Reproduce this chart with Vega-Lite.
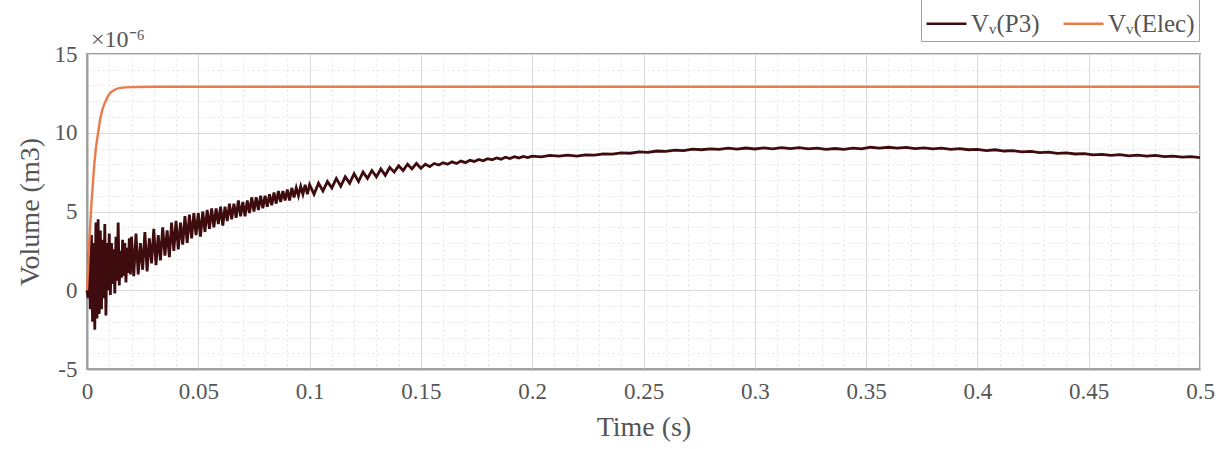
{
  "$schema": "https://vega.github.io/schema/vega-lite/v6.json",
  "width": 1113,
  "height": 315,
  "autosize": {"type": "none"},
  "padding": {"left": 87, "top": 54, "right": 21, "bottom": 80},
  "background": "white",
  "title": {"text": "×10⁻⁶", "anchor": "start", "frame": "group", "offset": -54, "dx": 4, "fontSize": 24, "font": "Liberation Serif", "fontWeight": "normal", "color": "#555"},
  "config": {
    "view": {"stroke": "#a0a0a0", "strokeWidth": 2},
    "axis": {
      "labelFont": "Liberation Serif", "labelFontSize": 23, "labelColor": "#555",
      "titleFont": "Liberation Serif", "titleFontSize": 28, "titleFontWeight": "normal", "titleColor": "#555",
      "domainColor": "#a0a0a0", "domainWidth": 2,
      "tickColor": "#999", "gridColor": "#dcdcdc", "gridWidth": 1
    },
    "legend": {
      "orient": "none", "legendX": 834, "legendY": -56, "direction": "horizontal",
      "strokeColor": "#a0a0a0", "padding": 4,
      "symbolType": "stroke", "symbolSize": 1600, "symbolStrokeWidth": 2.5,
      "labelFont": "Liberation Serif", "labelFontSize": 25, "labelColor": "#555", "labelOffset": 3,
      "columnPadding": 18, "title": " ", "titleFontSize": 16, "titlePadding": 0
    }
  },
  "datasets": {
    "p3": [
      {"t":0,"v":0},{"t":0.0005,"v":-0.5},{"t":0.001,"v":2.5},{"t":0.0015,"v":-1.2},{"t":0.002,"v":3.5},{"t":0.0025,"v":-2.0},{"t":0.003,"v":3.0},{"t":0.0035,"v":-2.5},{"t":0.004,"v":4.3},{"t":0.0045,"v":-1.8},{"t":0.005,"v":4.5},{"t":0.0055,"v":-1.5},{"t":0.006,"v":3.8},{"t":0.0065,"v":-1.2},{"t":0.007,"v":3.2},{"t":0.0075,"v":-0.5},{"t":0.008,"v":4.2},{"t":0.0085,"v":-1.6},{"t":0.009,"v":3.0},{"t":0.0095,"v":0.0},
      {"t":0.010,"v":3.6},{"t":0.0105,"v":-0.3},{"t":0.011,"v":3.0},{"t":0.0115,"v":0.4},{"t":0.012,"v":2.6},{"t":0.0125,"v":-0.2},{"t":0.013,"v":3.4},{"t":0.0135,"v":0.6},{"t":0.014,"v":4.3},{"t":0.0145,"v":0.3},{"t":0.015,"v":2.5},{"t":0.0155,"v":0.8},{"t":0.016,"v":3.2},{"t":0.0165,"v":0.9},{"t":0.017,"v":3.0},{"t":0.0175,"v":0.5},{"t":0.018,"v":2.7},{"t":0.0185,"v":1.1},{"t":0.019,"v":3.3},{"t":0.0195,"v":1.0},
      {"t":0.020,"v":3.4},{"t":0.021,"v":0.9},{"t":0.022,"v":3.6},{"t":0.023,"v":1.0},{"t":0.024,"v":3.0},{"t":0.025,"v":1.3},{"t":0.026,"v":3.7},{"t":0.027,"v":1.2},{"t":0.028,"v":3.3},{"t":0.029,"v":1.7},
      {"t":0.030,"v":3.9},{"t":0.031,"v":1.6},{"t":0.032,"v":3.5},{"t":0.033,"v":1.9},{"t":0.034,"v":4.0},{"t":0.035,"v":2.2},{"t":0.036,"v":3.8},{"t":0.037,"v":2.1},{"t":0.038,"v":4.3},{"t":0.039,"v":2.5},
      {"t":0.040,"v":4.4},{"t":0.041,"v":2.6},{"t":0.042,"v":4.3},{"t":0.043,"v":2.9},{"t":0.044,"v":4.7},{"t":0.045,"v":3.0},{"t":0.046,"v":4.8},{"t":0.047,"v":3.3},{"t":0.048,"v":4.9},{"t":0.049,"v":3.5},
      {"t":0.050,"v":4.9},{"t":0.051,"v":3.4},{"t":0.052,"v":5.0},{"t":0.053,"v":3.7},{"t":0.054,"v":5.1},{"t":0.055,"v":3.9},{"t":0.056,"v":5.2},{"t":0.057,"v":4.0},{"t":0.058,"v":5.2},{"t":0.059,"v":4.2},
      {"t":0.060,"v":5.3},{"t":0.061,"v":4.1},{"t":0.062,"v":5.3},{"t":0.063,"v":4.4},{"t":0.064,"v":5.5},{"t":0.065,"v":4.5},{"t":0.066,"v":5.5},{"t":0.067,"v":4.6},{"t":0.068,"v":5.7},{"t":0.069,"v":4.7},
      {"t":0.070,"v":5.6},{"t":0.071,"v":4.7},{"t":0.072,"v":5.7},{"t":0.073,"v":4.9},{"t":0.074,"v":5.9},{"t":0.075,"v":5.0},{"t":0.076,"v":5.9},{"t":0.077,"v":5.1},{"t":0.078,"v":6.0},{"t":0.079,"v":5.2},
      {"t":0.080,"v":6.0},{"t":0.081,"v":5.3},{"t":0.082,"v":6.1},{"t":0.083,"v":5.4},{"t":0.084,"v":6.2},{"t":0.085,"v":5.5},{"t":0.086,"v":6.3},{"t":0.087,"v":5.6},{"t":0.088,"v":6.3},{"t":0.089,"v":5.7},
      {"t":0.090,"v":6.4},{"t":0.091,"v":5.7},{"t":0.092,"v":6.5},{"t":0.093,"v":5.9},{"t":0.094,"v":6.5},{"t":0.095,"v":6.0},{"t":0.096,"v":6.6},{"t":0.097,"v":6.1},{"t":0.098,"v":6.7},{"t":0.099,"v":6.1},
      {"t":0.100,"v":6.7},{"t":0.102,"v":6.1},{"t":0.104,"v":6.8},{"t":0.106,"v":6.3},{"t":0.108,"v":6.9},{"t":0.110,"v":6.5},{"t":0.112,"v":7.1},{"t":0.114,"v":6.6},{"t":0.116,"v":7.2},{"t":0.118,"v":6.8},
      {"t":0.120,"v":7.4},{"t":0.122,"v":6.9},{"t":0.124,"v":7.5},{"t":0.126,"v":7.1},{"t":0.128,"v":7.6},{"t":0.130,"v":7.2},{"t":0.132,"v":7.7},{"t":0.134,"v":7.3},{"t":0.136,"v":7.8},{"t":0.138,"v":7.5},
      {"t":0.140,"v":7.9},{"t":0.142,"v":7.6},{"t":0.144,"v":8.0},{"t":0.146,"v":7.7},{"t":0.148,"v":8.05},
      {"t":0.150,"v":7.75},{"t":0.152,"v":8.0},{"t":0.154,"v":7.85},{"t":0.156,"v":8.05},{"t":0.158,"v":7.95},{"t":0.160,"v":8.1},{"t":0.162,"v":8.0},{"t":0.164,"v":8.15},{"t":0.166,"v":8.05},{"t":0.168,"v":8.2},
      {"t":0.170,"v":8.1},{"t":0.172,"v":8.25},{"t":0.174,"v":8.18},{"t":0.176,"v":8.3},{"t":0.178,"v":8.22},{"t":0.180,"v":8.35},{"t":0.182,"v":8.28},{"t":0.184,"v":8.4},{"t":0.186,"v":8.32},{"t":0.188,"v":8.45},
      {"t":0.190,"v":8.36},{"t":0.192,"v":8.48},{"t":0.194,"v":8.4},{"t":0.196,"v":8.5},{"t":0.198,"v":8.42},{"t":0.200,"v":8.52},
      {"t":0.204,"v":8.47},{"t":0.208,"v":8.56},{"t":0.212,"v":8.52},{"t":0.216,"v":8.58},{"t":0.220,"v":8.52},{"t":0.224,"v":8.6},{"t":0.228,"v":8.58},{"t":0.232,"v":8.66},{"t":0.236,"v":8.64},
      {"t":0.240,"v":8.72},{"t":0.244,"v":8.7},{"t":0.248,"v":8.78},{"t":0.252,"v":8.76},{"t":0.256,"v":8.84},{"t":0.260,"v":8.82},{"t":0.264,"v":8.9},{"t":0.268,"v":8.86},{"t":0.272,"v":8.96},{"t":0.276,"v":8.92},
      {"t":0.280,"v":8.98},{"t":0.284,"v":8.94},{"t":0.288,"v":9.02},{"t":0.292,"v":8.96},{"t":0.296,"v":9.03},{"t":0.300,"v":8.97},{"t":0.304,"v":9.04},{"t":0.308,"v":8.98},{"t":0.312,"v":9.05},{"t":0.316,"v":8.99},
      {"t":0.320,"v":9.06},{"t":0.324,"v":8.98},{"t":0.328,"v":9.02},{"t":0.332,"v":8.95},{"t":0.336,"v":9.0},{"t":0.340,"v":8.94},{"t":0.344,"v":9.02},{"t":0.348,"v":8.98},{"t":0.352,"v":9.08},{"t":0.356,"v":9.02},
      {"t":0.360,"v":9.08},{"t":0.364,"v":9.03},{"t":0.368,"v":9.07},{"t":0.372,"v":8.99},{"t":0.376,"v":9.04},{"t":0.380,"v":8.98},{"t":0.384,"v":9.02},{"t":0.388,"v":8.94},{"t":0.392,"v":8.99},{"t":0.396,"v":8.92},
      {"t":0.400,"v":8.95},{"t":0.404,"v":8.87},{"t":0.408,"v":8.92},{"t":0.412,"v":8.84},{"t":0.416,"v":8.86},{"t":0.420,"v":8.79},{"t":0.424,"v":8.82},{"t":0.428,"v":8.74},{"t":0.432,"v":8.77},{"t":0.436,"v":8.69},
      {"t":0.440,"v":8.72},{"t":0.444,"v":8.65},{"t":0.448,"v":8.68},{"t":0.452,"v":8.6},{"t":0.456,"v":8.63},{"t":0.460,"v":8.57},{"t":0.464,"v":8.61},{"t":0.468,"v":8.53},{"t":0.472,"v":8.58},{"t":0.476,"v":8.52},
      {"t":0.480,"v":8.56},{"t":0.484,"v":8.48},{"t":0.488,"v":8.52},{"t":0.492,"v":8.45},{"t":0.496,"v":8.48},{"t":0.500,"v":8.42}
    ],
    "elec": [
      {"t":0,"v":0},{"t":0.001,"v":3.0},{"t":0.002,"v":5.5},{"t":0.003,"v":7.5},{"t":0.004,"v":9.0},{"t":0.005,"v":10.0},{"t":0.006,"v":10.9},{"t":0.007,"v":11.5},{"t":0.008,"v":11.9},{"t":0.009,"v":12.2},{"t":0.010,"v":12.45},{"t":0.012,"v":12.7},{"t":0.015,"v":12.85},{"t":0.02,"v":12.9},{"t":0.03,"v":12.92},{"t":0.5,"v":12.92}
    ]
  },
  "encoding": {
    "x": {"field": "t", "type": "quantitative", "title": "Time (s)",
      "scale": {"domain": [0, 0.5], "nice": false, "zero": false},
      "axis": {
        "values": [0,0.01,0.02,0.03,0.04,0.05,0.06,0.07,0.08,0.09,0.1,0.11,0.12,0.13,0.14,0.15,0.16,0.17,0.18,0.19,0.2,0.21,0.22,0.23,0.24,0.25,0.26,0.27,0.28,0.29,0.3,0.31,0.32,0.33,0.34,0.35,0.36,0.37,0.38,0.39,0.4,0.41,0.42,0.43,0.44,0.45,0.46,0.47,0.48,0.49,0.5],
        "labelExpr": "round(datum.value*100) % 5 == 0 ? format(datum.value, '~g') : ''",
        "gridDash": {"condition": {"test": "round(datum.value*100) % 5 != 0", "value": [2, 3]}, "value": []},
        "gridColor": {"condition": {"test": "round(datum.value*100) % 5 != 0", "value": "#e4e4e4"}, "value": "#d8d8d8"},
        "ticks": false,
        "labelPadding": 11, "titlePadding": 10, "labelFlush": false, "labelOverlap": false
      }},
    "y": {"field": "v", "type": "quantitative", "title": "Volume (m3)",
      "scale": {"domain": [-5, 15], "nice": false},
      "axis": {
        "values": [-5,-4,-3,-2,-1,0,1,2,3,4,5,6,7,8,9,10,11,12,13,14,15],
        "labelExpr": "datum.value % 5 == 0 ? replace(datum.label, '−', '-') : ''",
        "gridDash": {"condition": {"test": "datum.value % 5 != 0", "value": [2, 3]}, "value": []},
        "gridColor": {"condition": {"test": "datum.value % 5 != 0", "value": "#e4e4e4"}, "value": "#d8d8d8"},
        "ticks": false,
        "labelPadding": 10, "titlePadding": 10, "labelOverlap": false
      }},
    "color": {"type": "nominal", "scale": {"domain": ["Vᵥ(P3)", "Vᵥ(Elec)"], "range": ["#3e0c0e", "#EA7B4B"]}}
  },
  "layer": [
    {"data": {"name": "p3"}, "mark": {"type": "line", "strokeWidth": 2.8}, "encoding": {"color": {"datum": "Vᵥ(P3)", "type": "nominal", "scale": {"domain": ["Vᵥ(P3)", "Vᵥ(Elec)"], "range": ["#3e0c0e", "#EA7B4B"]}}}},
    {"data": {"name": "elec"}, "mark": {"type": "line", "strokeWidth": 2.4, "interpolate": "monotone"}, "encoding": {"color": {"datum": "Vᵥ(Elec)", "type": "nominal"}}}
  ]
}
